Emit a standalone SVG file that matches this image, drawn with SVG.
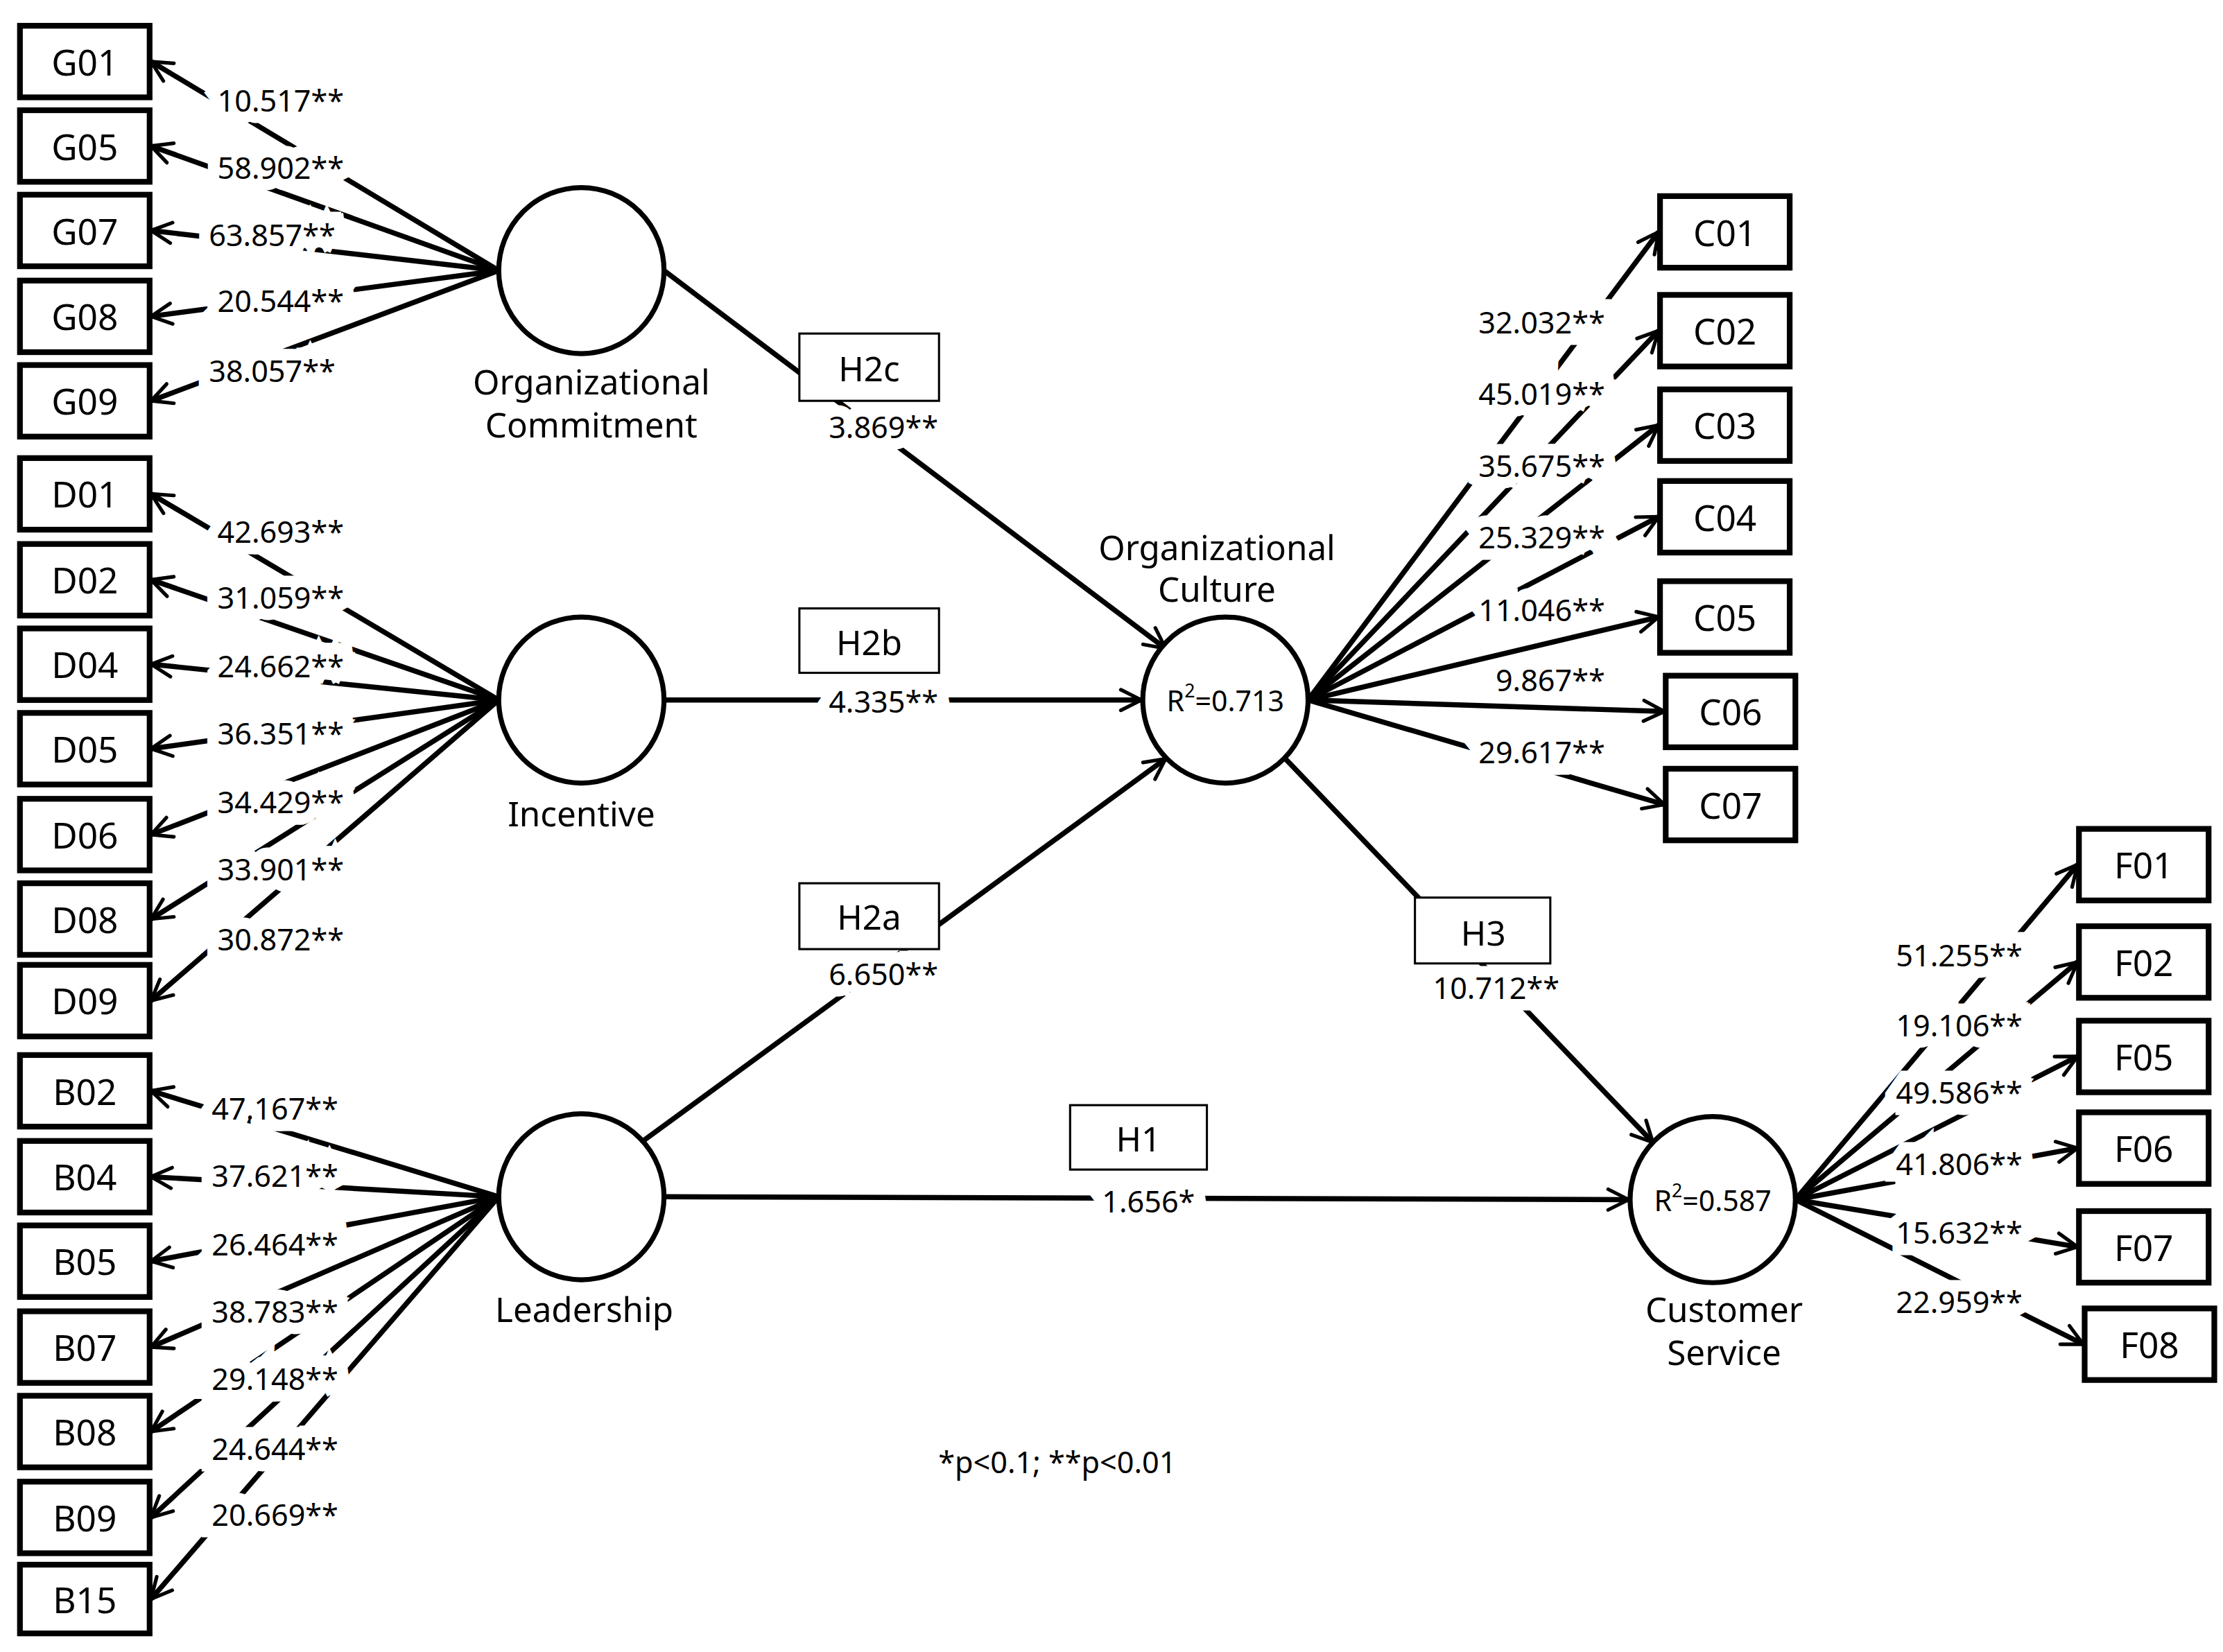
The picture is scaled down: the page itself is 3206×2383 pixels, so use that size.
<svg xmlns="http://www.w3.org/2000/svg" width="3206" height="2383" viewBox="0 0 3206 2383">
<style>
.box{fill:#fff;stroke:#000;stroke-width:4}
.hb{fill:#fff;stroke:#000;stroke-width:1.5}
.cir{fill:#fff;stroke:#000;stroke-width:3.5}
.ln{stroke:#000;stroke-width:3.6;fill:none}
.bt{font-family:"Noto Sans","DejaVu Sans",sans-serif;font-size:25px;text-anchor:middle;dominant-baseline:central}
.lt{font-family:"Noto Sans","DejaVu Sans",sans-serif;font-size:21px;text-anchor:middle;dominant-baseline:central;paint-order:stroke;stroke:#fff;stroke-width:16px;stroke-linejoin:miter}
.nt{font-family:"Noto Sans","DejaVu Sans",sans-serif;font-size:24px;text-anchor:middle;dominant-baseline:central}
</style>
<defs>
<marker id="a" viewBox="0 0 10 10" refX="9" refY="5" markerWidth="5" markerHeight="5" orient="auto" markerUnits="strokeWidth">
<path d="M1,1 L9,5 L1,9" fill="none" stroke="#000" stroke-width="1.4" stroke-linecap="round" stroke-linejoin="round"/>
</marker>
</defs>
<rect width="3206" height="2383" fill="#fff"/>
<g transform="scale(2.055,2.065)">
<g id="connectors">
<g marker-end="url(#a)" class="ln">
<line x1="350" y1="189" x2="106" y2="43"/>
<line x1="350" y1="189" x2="106" y2="102"/>
<line x1="350" y1="189" x2="106" y2="161"/>
<line x1="350" y1="189" x2="106" y2="221"/>
<line x1="350" y1="189" x2="106" y2="280"/>
<line x1="350" y1="489" x2="106" y2="345"/>
<line x1="350" y1="489" x2="106" y2="405"/>
<line x1="350" y1="489" x2="106" y2="464"/>
<line x1="350" y1="489" x2="106" y2="523"/>
<line x1="350" y1="489" x2="106" y2="583"/>
<line x1="350" y1="489" x2="106" y2="642"/>
<line x1="350" y1="489" x2="106" y2="699"/>
<line x1="350" y1="836" x2="106" y2="762"/>
<line x1="350" y1="836" x2="106" y2="822"/>
<line x1="350" y1="836" x2="106" y2="881"/>
<line x1="350" y1="836" x2="106" y2="941"/>
<line x1="350" y1="836" x2="106" y2="1000"/>
<line x1="350" y1="836" x2="106" y2="1060"/>
<line x1="350" y1="836" x2="106" y2="1117"/>
<line x1="918" y1="489" x2="1164" y2="162"/>
<line x1="918" y1="489" x2="1164" y2="231"/>
<line x1="918" y1="489" x2="1164" y2="297"/>
<line x1="918" y1="489" x2="1164" y2="361"/>
<line x1="918" y1="489" x2="1164" y2="431"/>
<line x1="918" y1="489" x2="1168" y2="497"/>
<line x1="918" y1="489" x2="1168" y2="562"/>
<line x1="1260" y1="838" x2="1458" y2="604"/>
<line x1="1260" y1="838" x2="1458" y2="672"/>
<line x1="1260" y1="838" x2="1458" y2="738"/>
<line x1="1260" y1="838" x2="1458" y2="802"/>
<line x1="1260" y1="838" x2="1458" y2="871"/>
<line x1="1260" y1="838" x2="1462" y2="939"/>
<line x1="466" y1="189" x2="818" y2="453"/>
<line x1="466" y1="489" x2="801" y2="489"/>
<line x1="450" y1="798" x2="818" y2="530"/>
<line x1="902" y1="530" x2="1160" y2="798"/>
<line x1="466" y1="836" x2="1143" y2="838"/>
</g>
</g>
<g id="labels">
<text class="lt" x="197" y="70">10.517**</text>
<text class="lt" x="197" y="117">58.902**</text>
<text class="lt" x="191" y="164">63.857**</text>
<text class="lt" x="197" y="210">20.544**</text>
<text class="lt" x="191" y="259">38.057**</text>
<text class="lt" x="197" y="371">42.693**</text>
<text class="lt" x="197" y="417">31.059**</text>
<text class="lt" x="197" y="465">24.662**</text>
<text class="lt" x="197" y="512">36.351**</text>
<text class="lt" x="197" y="560">34.429**</text>
<text class="lt" x="197" y="607">33.901**</text>
<text class="lt" x="197" y="656">30.872**</text>
<text class="lt" x="193" y="774">47.167**</text>
<text class="lt" x="193" y="821">37.621**</text>
<text class="lt" x="193" y="869">26.464**</text>
<text class="lt" x="193" y="916">38.783**</text>
<text class="lt" x="193" y="963">29.148**</text>
<text class="lt" x="193" y="1012">24.644**</text>
<text class="lt" x="193" y="1058">20.669**</text>
<text class="lt" x="1082" y="225">32.032**</text>
<text class="lt" x="1082" y="275">45.019**</text>
<text class="lt" x="1082" y="325">35.675**</text>
<text class="lt" x="1082" y="375">25.329**</text>
<text class="lt" x="1082" y="426">11.046**</text>
<text class="lt" x="1088" y="475">9.867**</text>
<text class="lt" x="1082" y="525">29.617**</text>
<text class="lt" x="1375" y="667">51.255**</text>
<text class="lt" x="1375" y="716">19.106**</text>
<text class="lt" x="1375" y="763">49.586**</text>
<text class="lt" x="1375" y="813">41.806**</text>
<text class="lt" x="1375" y="861">15.632**</text>
<text class="lt" x="1375" y="909">22.959**</text>
<text class="lt" x="620" y="298">3.869**</text>
<text class="lt" x="620" y="490">4.335**</text>
<text class="lt" x="620" y="680">6.650**</text>
<text class="lt" x="1050" y="690">10.712**</text>
<text class="lt" x="806" y="839">1.656*</text>
<text class="lt" x="742" y="1021">*p&lt;0.1; **p&lt;0.01</text>
</g>
<g id="hyp">
<rect class="hb" x="561" y="233" width="98" height="47"/><text class="nt" x="610" y="257">H2c</text>
<rect class="hb" x="561" y="425" width="98" height="45"/><text class="nt" x="610" y="448">H2b</text>
<rect class="hb" x="561" y="617" width="98" height="46"/><text class="nt" x="610" y="640">H2a</text>
<rect class="hb" x="993" y="627" width="95" height="46"/><text class="nt" x="1041" y="651">H3</text>
<rect class="hb" x="751" y="772" width="96" height="45"/><text class="nt" x="799" y="795">H1</text>
</g>
<g id="OC"><ellipse class="cir" cx="408" cy="189" rx="58" ry="58"/><text class="nt" x="415" y="266">Organizational</text><text class="nt" x="415" y="296">Commitment</text></g>
<g id="INC"><ellipse class="cir" cx="408" cy="489" rx="58" ry="58"/><text class="nt" x="408" y="568">Incentive</text></g>
<g id="LEAD"><ellipse class="cir" cx="408" cy="836" rx="58" ry="58"/><text class="nt" x="410" y="914">Leadership</text></g>
<g id="CUL"><ellipse class="cir" cx="860" cy="489" rx="58" ry="58"/><text class="nt" x="854" y="382">Organizational</text><text class="nt" x="854" y="411">Culture</text><text class="nt" x="860" y="489" style="font-size:20px">R<tspan dy="-7" style="font-size:13px">2</tspan><tspan dy="7">=0.713</tspan></text></g>
<g id="CS"><ellipse class="cir" cx="1202" cy="838" rx="58" ry="58"/><text class="nt" x="1210" y="914">Customer</text><text class="nt" x="1210" y="944">Service</text><text class="nt" x="1202" y="838" style="font-size:20px">R<tspan dy="-7" style="font-size:13px">2</tspan><tspan dy="7">=0.587</tspan></text></g>
<g id="G01"><rect class="box" x="14" y="18" width="91" height="50"/><text class="bt" x="59.5" y="43">G01</text></g>
<g id="G05"><rect class="box" x="14" y="77" width="91" height="50"/><text class="bt" x="59.5" y="102">G05</text></g>
<g id="G07"><rect class="box" x="14" y="136" width="91" height="50"/><text class="bt" x="59.5" y="161">G07</text></g>
<g id="G08"><rect class="box" x="14" y="196" width="91" height="50"/><text class="bt" x="59.5" y="221">G08</text></g>
<g id="G09"><rect class="box" x="14" y="255" width="91" height="50"/><text class="bt" x="59.5" y="280">G09</text></g>
<g id="D01"><rect class="box" x="14" y="320" width="91" height="50"/><text class="bt" x="59.5" y="345">D01</text></g>
<g id="D02"><rect class="box" x="14" y="380" width="91" height="50"/><text class="bt" x="59.5" y="405">D02</text></g>
<g id="D04"><rect class="box" x="14" y="439" width="91" height="50"/><text class="bt" x="59.5" y="464">D04</text></g>
<g id="D05"><rect class="box" x="14" y="498" width="91" height="50"/><text class="bt" x="59.5" y="523">D05</text></g>
<g id="D06"><rect class="box" x="14" y="558" width="91" height="50"/><text class="bt" x="59.5" y="583">D06</text></g>
<g id="D08"><rect class="box" x="14" y="617" width="91" height="50"/><text class="bt" x="59.5" y="642">D08</text></g>
<g id="D09"><rect class="box" x="14" y="674" width="91" height="50"/><text class="bt" x="59.5" y="699">D09</text></g>
<g id="B02"><rect class="box" x="14" y="737" width="91" height="50"/><text class="bt" x="59.5" y="762">B02</text></g>
<g id="B04"><rect class="box" x="14" y="797" width="91" height="50"/><text class="bt" x="59.5" y="822">B04</text></g>
<g id="B05"><rect class="box" x="14" y="856" width="91" height="50"/><text class="bt" x="59.5" y="881">B05</text></g>
<g id="B07"><rect class="box" x="14" y="916" width="91" height="50"/><text class="bt" x="59.5" y="941">B07</text></g>
<g id="B08"><rect class="box" x="14" y="975" width="91" height="50"/><text class="bt" x="59.5" y="1000">B08</text></g>
<g id="B09"><rect class="box" x="14" y="1035" width="91" height="50"/><text class="bt" x="59.5" y="1060">B09</text></g>
<g id="B15"><rect class="box" x="14" y="1093" width="91" height="48"/><text class="bt" x="59.5" y="1117">B15</text></g>
<g id="C01"><rect class="box" x="1165" y="137" width="91" height="50"/><text class="bt" x="1210.5" y="162">C01</text></g>
<g id="C02"><rect class="box" x="1165" y="206" width="91" height="50"/><text class="bt" x="1210.5" y="231">C02</text></g>
<g id="C03"><rect class="box" x="1165" y="272" width="91" height="50"/><text class="bt" x="1210.5" y="297">C03</text></g>
<g id="C04"><rect class="box" x="1165" y="336" width="91" height="50"/><text class="bt" x="1210.5" y="361">C04</text></g>
<g id="C05"><rect class="box" x="1165" y="406" width="91" height="50"/><text class="bt" x="1210.5" y="431">C05</text></g>
<g id="C06"><rect class="box" x="1169" y="472" width="91" height="50"/><text class="bt" x="1214.5" y="497">C06</text></g>
<g id="C07"><rect class="box" x="1169" y="537" width="91" height="50"/><text class="bt" x="1214.5" y="562">C07</text></g>
<g id="F01"><rect class="box" x="1459" y="579" width="91" height="50"/><text class="bt" x="1504.5" y="604">F01</text></g>
<g id="F02"><rect class="box" x="1459" y="647" width="91" height="50"/><text class="bt" x="1504.5" y="672">F02</text></g>
<g id="F05"><rect class="box" x="1459" y="713" width="91" height="50"/><text class="bt" x="1504.5" y="738">F05</text></g>
<g id="F06"><rect class="box" x="1459" y="777" width="91" height="50"/><text class="bt" x="1504.5" y="802">F06</text></g>
<g id="F07"><rect class="box" x="1459" y="846" width="91" height="50"/><text class="bt" x="1504.5" y="871">F07</text></g>
<g id="F08"><rect class="box" x="1463" y="914" width="91" height="50"/><text class="bt" x="1508.5" y="939">F08</text></g>
</g>
</svg>
